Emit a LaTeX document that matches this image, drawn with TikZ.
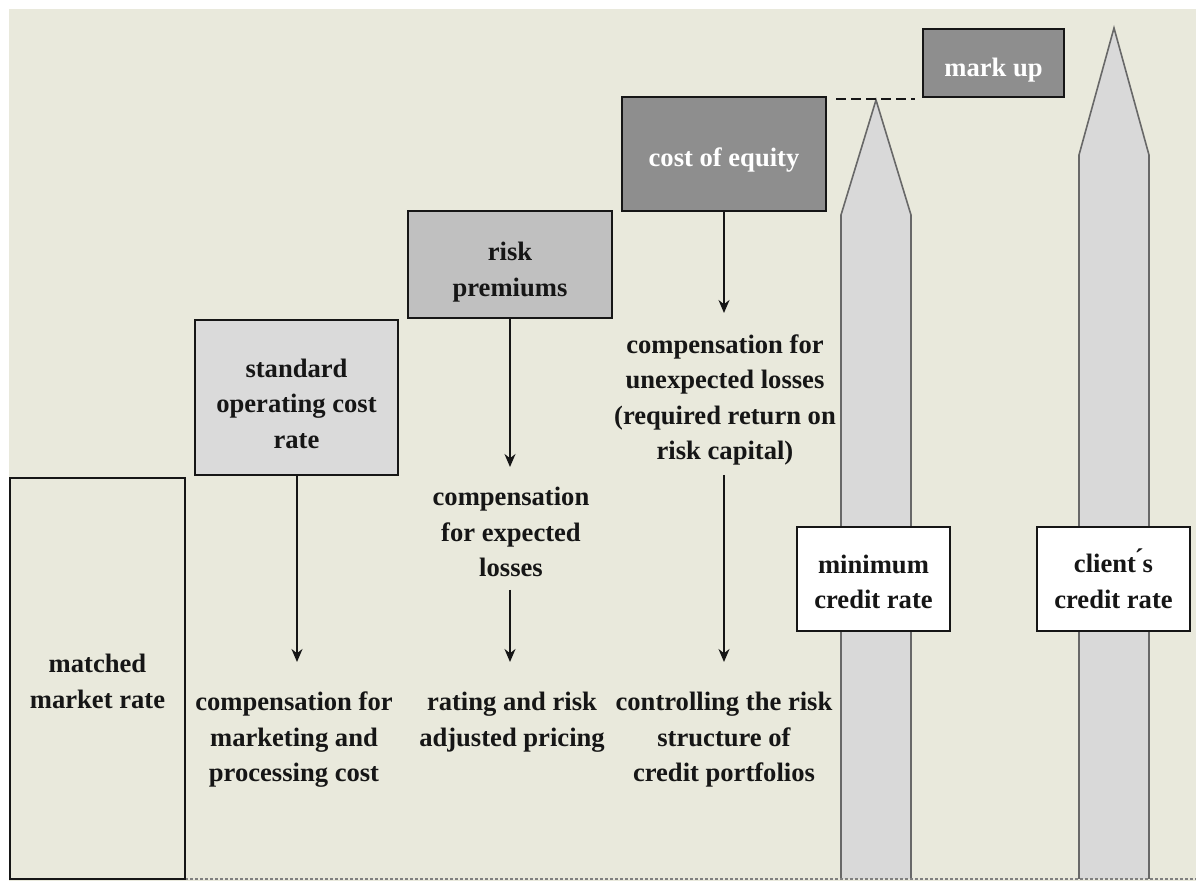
\documentclass[tikz,border=0pt]{standalone}
\usepackage{fontspec}
\setmainfont{Liberation Serif}
\usetikzlibrary{arrows.meta}
\definecolor{bg}{HTML}{E9E9DC}
\definecolor{lightbox}{HTML}{DADADA}
\definecolor{midbox}{HTML}{C0C0C0}
\definecolor{darkbox}{HTML}{8E8E8E}
\definecolor{pencil}{HTML}{D9D9D9}
\definecolor{pencilline}{HTML}{686868}
\definecolor{ink}{HTML}{161616}
\tikzset{
  txt/.style={font=\bfseries\fontsize{13.3}{17.75}\selectfont, text=ink, align=center, inner sep=1pt},
  boxbase/.style={draw=ink, line width=1pt, inner sep=0pt},
  boxtext/.style={txt, label distance=0pt},
  arr/.style={draw=ink, line width=0.8pt, -{Stealth[length=6.5pt,width=5.5pt]}},
  pencilshape/.style={fill=pencil},
  pencilrim/.style={draw=pencilline, line width=0.8pt},
}
\begin{document}
\begin{tikzpicture}[x=0.5pt,y=-0.5pt]
\useasboundingbox (0,0) rectangle (1196,881);
\fill[white] (0,0) rectangle (1196,881);
\fill[bg] (9,9) rectangle (1196,881);

% pencils
\fill[pencilshape] (841,879) -- (841,215) -- (876,100) -- (911,215) -- (911,879) -- cycle;
\draw[pencilrim] (841,879) -- (841,215) -- (876,100) -- (911,215) -- (911,879);
\fill[pencilshape] (1079,879) -- (1079,155) -- (1114,28) -- (1149,155) -- (1149,879) -- cycle;
\draw[pencilrim] (1079,879) -- (1079,155) -- (1114,28) -- (1149,155) -- (1149,879);

% bottom dashed base line
\draw[draw=gray, line width=0.8pt, dash pattern=on 1.5pt off 1pt] (185,879) -- (1196,879);

% boxes
\node[boxbase, fill=bg, minimum width=87.5pt, minimum height=200.5pt,
  label={[boxtext, name=mmtext, yshift=-1.5pt]center:{matched\\market rate}}] (mm) at (97.5,678.5) {};
\node[boxbase, fill=lightbox, minimum width=101.5pt, minimum height=77.5pt,
  label={[boxtext, name=stdtext, yshift=-3pt]center:{standard\\operating cost\\rate}}] (std) at (296.5,397.5) {};
\node[boxbase, fill=midbox, minimum width=102pt, minimum height=53.5pt,
  label={[boxtext, name=rptext, yshift=-3.7pt]center:{risk\\premiums}}] (rp) at (510,264.5) {};
\node[boxbase, fill=darkbox, minimum width=102pt, minimum height=57pt,
  label={[boxtext, text=white, name=coetext, yshift=-3pt]center:{cost of equity}}] (coe) at (724,154) {};
\node[boxbase, fill=darkbox, minimum width=70.5pt, minimum height=34pt,
  label={[boxtext, text=white, name=mutext, yshift=-3.5pt]center:{mark up}}] (mu) at (993.5,63) {};
\node[boxbase, fill=white, minimum width=76.5pt, minimum height=52pt,
  label={[boxtext, name=minrtext, yshift=-1.5pt]center:{minimum\\credit rate}}] (minr) at (873.5,579) {};
\node[boxbase, fill=white, minimum width=76.5pt, minimum height=52pt,
  label={[boxtext, name=clitext, yshift=0pt]center:{client\'{}s\\credit rate}}] (cli) at (1113.5,579) {};

% free texts
\node[txt] (t1) at (294,740) {compensation for\\marketing and\\processing cost};
\node[txt] (t2) at (511,532) {compensation\\for expected\\losses};
\node[txt] (t3) at (512,722) {rating and risk\\adjusted pricing};
\node[txt] (t4) at (725,400) {compensation for\\unexpected losses\\(required return on\\risk capital)};
\node[txt] (t5) at (724,740) {controlling the risk\\structure of\\credit portfolios};

% arrow end points
\coordinate (e1) at (297,662);
\coordinate (e2) at (510,467);
\coordinate (s3) at (510,590);
\coordinate (e3) at (510,662);
\coordinate (e4) at (724,313);
\coordinate (s5) at (724,475);
\coordinate (e5) at (724,662);

\draw[arr] (std.south -| e1) -- (e1);
\draw[arr] (rp.south -| e2) -- (e2);
\draw[arr] (s3) -- (e3);
\draw[arr] (coe.south -| e4) -- (e4);
\draw[arr] (s5) -- (e5);

% dashed level line
\coordinate (d1) at (836,99);
\coordinate (d2) at (915,99);
\draw[draw=ink, line width=1.3pt, dash pattern=on 5pt off 2.5pt] (d1) -- (d2);
\end{tikzpicture}
\end{document}
